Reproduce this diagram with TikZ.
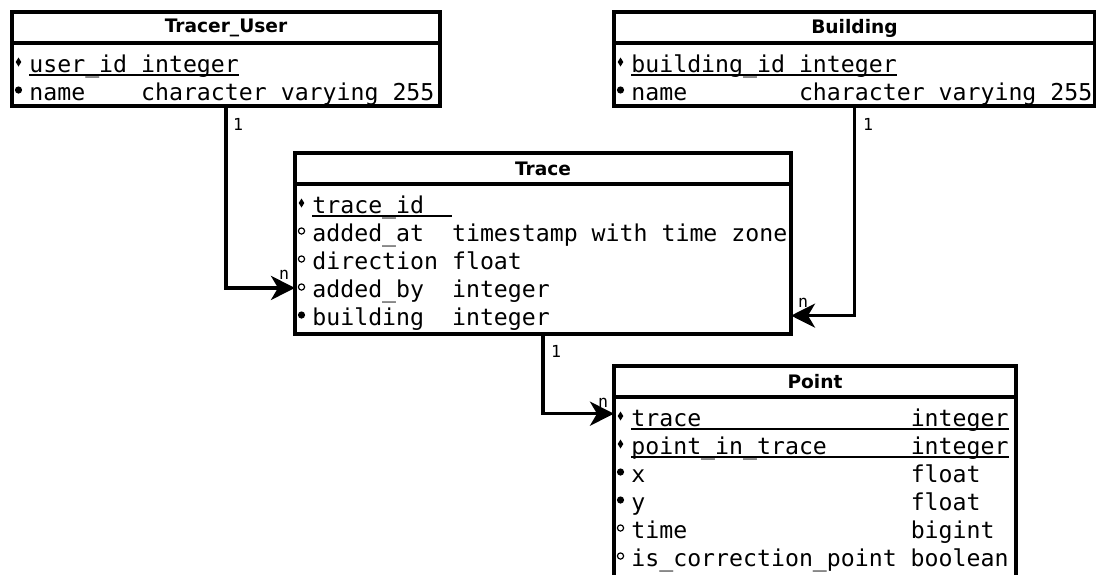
\documentclass[tikz,border=0pt]{standalone}
\usepackage{fontspec}
\usetikzlibrary{arrows.meta,calc}
\newfontfamily\monof{DejaVu Sans Mono}
\newfontfamily\headf{DejaVu Sans}
\newlength\cw
\newcommand\fieldfont{\monof\fontsize{11.6pt}{14pt}\selectfont}
% fixed-width column of n characters
\newcommand\colw[2]{\makebox[#1\cw][l]{#2}}
% primary-key underline, drawn just under the baseline
\newcommand\keyline[1]{\setbox0\hbox{#1}\rlap{\rule[-2pt]{\wd0}{0.9pt}}\box0}
\newcommand\us{\textunderscore}
% one attribute line: node name, box left x, baseline y, marker pic, text
\newcommand\field[5]{%
  \pic at (#2+6.5,#3-10) {#4};
  \node[field] (#1) at (#2+17,#3) {#5};}

\begin{document}
\settowidth\cw{\fieldfont x}%
\begin{tikzpicture}[x=0.5pt,y=-0.5pt,
  table/.style={draw, line width=1.7pt, rectangle, inner sep=0pt, outer sep=0pt,
    anchor=north west, fill=white},
  title/.style={font=\headf\bfseries\fontsize{9.3pt}{11pt}\selectfont, inner sep=0pt},
  field/.style={font=\fieldfont, inner sep=0pt, anchor=base west},
  conn/.style={line width=1.7pt, -{Stealth[length=12pt,width=12pt,inset=3.5pt]}},
  card/.style={font=\monof\fontsize{8.3pt}{9pt}\selectfont, inner sep=0pt},
  sep/.style={line width=1.7pt},
  kmark/.pic={\fill (0,-4.5) -- (2.8,0) -- (0,4.5) -- (-2.8,0) -- cycle;},
  fmark/.pic={\fill (0,0) circle (1.8pt);},
  omark/.pic={\draw[line width=0.6pt] (0,0) circle (1.55pt);}]
\clip (0,0) rectangle (1096,574);
\fill[white] (0,0) rectangle (1096,574);

% ---- Tracer_User ----
\node[table, minimum width=214pt, minimum height=47pt] (tu) at (12,12) {};
\draw[sep] (12,43) -- (440,43);
\node[title] (tu-t) at (226,28) {Tracer\us User};
\field{tu-1}{12}{72}{kmark}{\keyline{\colw{8}{user\us id}integer}}
\field{tu-2}{12}{100}{fmark}{\colw{8}{name}character varying 255}

% ---- Building ----
\node[table, minimum width=240.5pt, minimum height=47pt] (bd) at (614,12) {};
\draw[sep] (614,43) -- (1095,43);
\node[title] (bd-t) at (854.5,28) {Building};
\field{bd-1}{614}{72}{kmark}{\keyline{\colw{12}{building\us id}integer}}
\field{bd-2}{614}{100}{fmark}{\colw{12}{name}character varying 255}

% ---- Trace ----
\node[table, minimum width=248pt, minimum height=90.5pt] (tr) at (295,153) {};
\draw[sep] (295,184) -- (791,184);
\node[title] (tr-t) at (543,169) {Trace};
\field{tr-1}{295}{213}{kmark}{\keyline{\colw{10}{trace\us id}}}
\field{tr-2}{295}{241}{omark}{\colw{10}{added\us at}timestamp with time zone}
\field{tr-3}{295}{269}{omark}{\colw{10}{direction}float}
\field{tr-4}{295}{297}{omark}{\colw{10}{added\us by}integer}
\field{tr-5}{295}{325}{fmark}{\colw{10}{building}integer}

% ---- Point ----
\node[table, minimum width=201pt, minimum height=120pt] (pt) at (614,366) {};
\draw[sep] (614,397) -- (1016,397);
\node[title] (pt-t) at (815,382) {Point};
\field{pt-1}{614}{426}{kmark}{\keyline{\colw{20}{trace}integer}}
\field{pt-2}{614}{454}{kmark}{\keyline{\colw{20}{point\us in\us trace}integer}}
\field{pt-3}{614}{482}{fmark}{\colw{20}{x}float}
\field{pt-4}{614}{510}{fmark}{\colw{20}{y}float}
\field{pt-5}{614}{538}{omark}{\colw{20}{time}bigint}
\field{pt-6}{614}{566}{omark}{\colw{20}{is\us correction\us point}boolean}

% ---- relationships ----
\draw[conn] (tu.south) |- ($(tr.west |- tr-4)+(0,-3)$);
\node[card] (c1a) at (238,124) {1};
\node[card] (c1b) at (284,275) {n};

\draw[conn] (bd.south) |- ($(tr.east |- tr-5)+(0,-3)$);
\node[card] (c2a) at (868,124) {1};
\node[card] (c2b) at (803,303) {n};

\draw[conn] (tr.south) |- ($(pt.west |- pt-1)+(0,-6)$);
\node[card] (c3a) at (556,351) {1};
\node[card] (c3b) at (603,403) {n};
\end{tikzpicture}
\end{document}
